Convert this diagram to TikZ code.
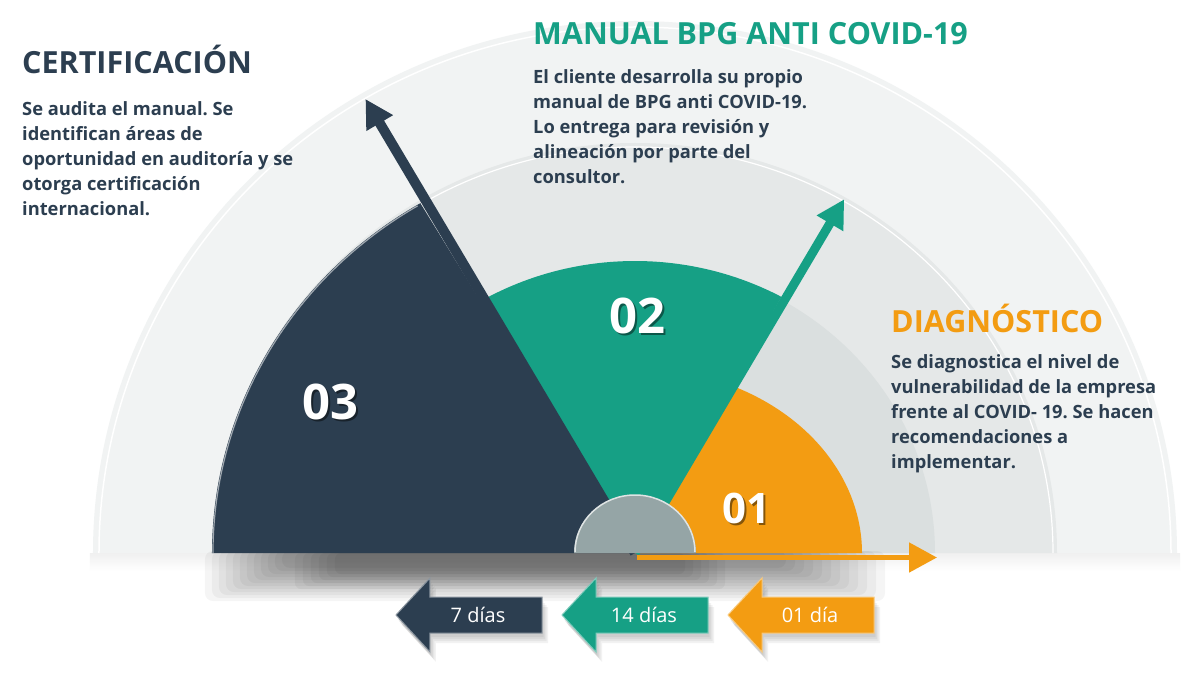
\documentclass[tikz,border=0pt]{standalone}
\usepackage{fontspec}
\setmainfont{Open Sans}
\frenchspacing
\usetikzlibrary{arrows.meta}

\definecolor{navy}{HTML}{2C3E50}
\definecolor{seagreen}{HTML}{16A085}
\definecolor{amber}{HTML}{F39C12}
\definecolor{hubgray}{HTML}{95A5A6}
\definecolor{bandout}{HTML}{F1F3F3}
\definecolor{bandmid}{HTML}{E5E8E8}
\definecolor{bandin}{HTML}{DADFDF}

\begin{document}
\begin{tikzpicture}[x=1pt, y=1pt,
  heading/.style={font=\fontsize{30.5}{36}\selectfont\bfseries, anchor=base west, inner sep=0pt},
  body/.style={font=\fontsize{18.3}{25}\selectfont\bfseries, text=navy, align=left,
    anchor=north west, inner sep=0pt},
  bignum/.style={font=\fontsize{#1}{#1}\selectfont\bfseries, text=white},
  numshadow/.style={font=\fontsize{#1}{#1}\selectfont\bfseries, text=black, opacity=0.45},
  needle/.style={line width=#1, -{Triangle[length=28pt, width=29pt]}},
  daylbl/.style={font=\fontsize{20}{24}\selectfont, text=white}
]
  \useasboundingbox (-635,-138) rectangle (547,553);
  \fill[white] (-635,-138) rectangle (547,553);

  % background bands
  \shade[top color=black!6, bottom color=white] (-545,0) rectangle (545,-18);
  \fill[bandout] (-542,0) arc[start angle=180, end angle=0, x radius=542pt, y radius=532pt] -- cycle;
  \draw[white, line width=1.5pt] (-536,0) arc[start angle=180, end angle=0, x radius=536pt, y radius=526pt];
  \fill[bandmid] (-422,0) arc[start angle=180, end angle=0, x radius=422pt, y radius=410pt] -- cycle;
  \draw[white, line width=1.2pt] (-418,0) arc[start angle=180, end angle=0, x radius=418pt, y radius=406pt];
  \fill[bandin] (-300,0) arc[start angle=180, end angle=0, x radius=300pt, y radius=290pt] -- cycle;

  % shadow under the gauge
  \foreach \k in {0,...,11}
    \fill[black, opacity=0.04, rounded corners=8pt] (-430+7*\k,2) rectangle (250-9*\k,-48+3*\k);
  \foreach \k in {0,...,5}
    \fill[black, opacity=0.04, rounded corners=6pt] (-340+8*\k,0) rectangle (90-8*\k,-36+3*\k);

  \coordinate (o) at (0,0);
  \coordinate (o1) at (2,-4.5);
  \coordinate (tip3) at (120.7:528);
  \coordinate (tip2) at (59.4:411);
  \coordinate (tip1) at (302,-4.5);

  % wedges
  \fill[seagreen] (o) -- (121:305pt and 292pt)
    arc[start angle=121, end angle=61.3, x radius=305pt, y radius=292pt] -- cycle;
  \fill[navy] (o) -- (-423,0)
    arc[start angle=180, end angle=120.5, x radius=423pt, y radius=406pt] -- cycle;
  \draw[navy!45!white, line width=1.2pt] (-422,0)
    arc[start angle=180, end angle=121, x radius=422pt, y radius=405pt];
  \fill[amber] (o) -- (64:227pt and 185pt)
    arc[start angle=64, end angle=0, x radius=227pt, y radius=185pt] -- cycle;

  % needles
  \draw[needle=9pt, seagreen] (o) -- (tip2);
  \draw[needle=10pt, navy] (o) -- (tip3);
  \draw[needle=5pt, amber] (o1) -- (tip1);

  % hub
  \fill[hubgray] (-61,0) arc[start angle=180, end angle=0, x radius=61pt, y radius=58pt] -- cycle;
  \draw[white!70!hubgray, line width=1.5pt] (-60,1) arc[start angle=180, end angle=0, x radius=60pt, y radius=57pt];

  % numbers
  \node[numshadow=49] (n3s) at (-303,149) {03};
  \node[bignum=49] (n3) at (-305,151) {03};
  \node[numshadow=49] (n2s) at (4,235) {02};
  \node[bignum=49] (n2) at (2,237) {02};
  \node[numshadow=42] (n1s) at (113,43) {01};
  \node[bignum=42] (n1) at (111,45) {01};

  % day arrows
  \foreach \cx/\col/\lbl/\nm in {-166/navy/7 días/d7, 0/seagreen/14 días/d14, 166/amber/01 día/d1}{
    \foreach \k in {1,...,4}
      \fill[black, opacity=0.05, shift={(1.5*\k,-2-2*\k)}] (\cx-73,-62) -- (\cx-39,-25)
        -- (\cx-39,-44) -- (\cx+73,-44) -- (\cx+73,-80) -- (\cx-39,-80) -- (\cx-39,-99) -- cycle;
    \fill[\col, draw=\col!55!white, line width=1pt] (\cx-73,-62) -- (\cx-39,-25)
      -- (\cx-39,-44) -- (\cx+73,-44) -- (\cx+73,-80) -- (\cx-39,-80) -- (\cx-39,-99) -- cycle;
    \node[daylbl] (\nm) at (\cx+9,-62) {\lbl};
  }

  % texts
  \node[heading, text=navy] (certT) at (-613,479) {CERTIFICACIÓN};
  \node[body] (certB) at (-613,452) {Se audita el manual. Se\\identifican áreas de\\oportunidad en auditoría y se\\otorga certificación\\internacional.};
  \node[heading, text=seagreen] (manT) at (-102,508) {MANUAL BPG ANTI COVID-19};
  \node[body] (manB) at (-102,484) {El cliente desarrolla su propio\\manual de BPG anti COVID-19.\\Lo entrega para revisión y\\alineación por parte del\\consultor.};
  \node[heading, text=amber] (diaT) at (256,221) {DIAGNÓSTICO};
  \node[body] (diaB) at (256,199) {Se diagnostica el nivel de\\vulnerabilidad de la empresa\\frente al COVID- 19. Se hacen\\recomendaciones a\\implementar.};
\end{tikzpicture}
\end{document}
